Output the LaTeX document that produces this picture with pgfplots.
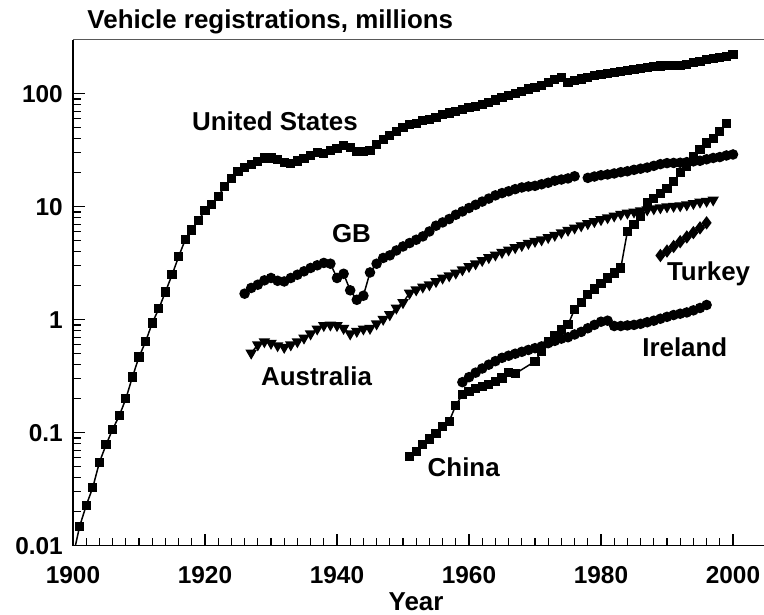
\documentclass[border=0pt]{standalone}
\usepackage{fontspec}
\setmainfont{Liberation Sans}
\usepackage{pgfplots}
\pgfplotsset{compat=1.18}
\begin{document}
\begin{tikzpicture}
\newcommand{\lblfont}{\fontsize{26}{30}\selectfont\bfseries}
\begin{axis}[
  at={(0,0)}, anchor=south west,
  scale only axis,
  width=693bp, height=505.9bp,
  xmin=1900, xmax=2005,
  ymode=log, ymin=0.01, ymax=300,
  axis lines=left,
  axis line style={-, line width=1.5bp, black},
  tick align=inside,
  major tick length=12bp, minor tick length=8bp,
  tick style={line width=1.3bp, black},
  xtick={1900,1920,1940,1960,1980,2000},
  xticklabels={1900,1920,1940,1960,1980,2000},
  minor x tick num=9,
  ytick={0.01,0.1,1,10,100},
  yticklabels={0.01,0.1,1,10,100},
  xticklabel style={font=\fontsize{24.5}{28}\selectfont\bfseries, inner sep=0pt, anchor=north, yshift=-21bp},
  yticklabel style={font=\fontsize{24.5}{28}\selectfont\bfseries, inner sep=0pt, anchor=east, xshift=-10bp},
  xlabel={Year},
  every axis x label/.style={at={(axis description cs:0.495,0)}, anchor=base, yshift=-64.3bp, inner sep=0pt, font=\lblfont},
  every axis plot/.append style={black, line width=1.5bp, solid},
]
% United States
\addplot[no markers] coordinates {(1900,0.008) (1901,0.0148)};
\addplot[mark=square*, mark size=3.8bp] coordinates {
(1901,0.0148) (1902,0.0227) (1903,0.0328) (1904,0.0546) (1905,0.078) (1906,0.107) (1907,0.141) (1908,0.199) (1909,0.311) (1910,0.468)
(1911,0.639) (1912,0.935) (1913,1.25) (1914,1.76) (1915,2.49) (1916,3.61) (1917,5.1) (1918,6.22) (1919,7.57) (1920,9.22)
(1921,10.5) (1922,12.4) (1923,15.1) (1924,17.8) (1925,20.4) (1926,22.3) (1927,23.7) (1928,25.2) (1929,27.0) (1930,27.0)
(1931,26.2) (1932,24.5) (1933,24.3) (1934,25.4) (1935,26.7) (1936,28.6) (1937,30.2) (1938,29.8) (1939,31.2) (1940,32.8)
(1941,35.0) (1942,33.2) (1943,31.0) (1944,30.6) (1945,31.5) (1946,35.5) (1947,39) (1948,43) (1949,46.5) (1950,50.5)
(1951,53) (1952,55) (1953,57.5) (1954,59.5) (1955,62) (1956,65) (1957,67.5) (1958,69.5) (1959,72.5) (1960,75)
(1961,77.5) (1962,80.5) (1963,84) (1964,88) (1965,92) (1966,96.5) (1967,100.5) (1968,105) (1969,110) (1970,114)
(1971,119) (1972,126) (1973,133) (1974,139) (1975,125) (1976,130) (1977,135) (1978,140) (1979,144) (1980,147)
(1981,150) (1982,153) (1983,156) (1984,160) (1985,164) (1986,167) (1987,170) (1988,173) (1989,176) (1990,178)
(1991,178) (1992,179) (1993,183) (1994,188) (1995,193) (1996,199) (1997,204) (1998,209) (1999,215) (2000,221)
};
% GB
\addplot[mark=*, mark size=4.5bp] coordinates {
(1926,1.70) (1927,1.91) (1928,2.04) (1929,2.23) (1930,2.34) (1931,2.21) (1932,2.18) (1933,2.34) (1934,2.50) (1935,2.68)
(1936,2.87) (1937,3.03) (1938,3.18) (1939,3.13) (1940,2.34) (1941,2.55) (1942,1.82) (1943,1.50) (1944,1.63) (1945,2.62)
(1946,3.13) (1947,3.52) (1948,3.71) (1949,4.10) (1950,4.45) (1951,4.77) (1952,5.10) (1953,5.46) (1954,6.04) (1955,6.79)
(1956,7.26) (1957,7.78) (1958,8.49) (1959,9.08) (1960,9.74) (1961,10.4) (1962,11.1) (1963,11.8) (1964,12.6) (1965,13.2)
(1966,13.7) (1967,14.3) (1968,14.8) (1969,15.1) (1970,15.3) (1971,15.8) (1972,16.3) (1973,17.0) (1974,17.4) (1975,17.8)
(1976,18.6)
};
\addplot[mark=*, mark size=4.5bp] coordinates {
(1978,18.0) (1979,18.5) (1980,19.0) (1981,19.3) (1982,19.7) (1983,20.2) (1984,20.6) (1985,21.2) (1986,21.7) (1987,22.2)
(1988,23.0) (1989,23.8) (1990,24.3) (1991,24.4) (1992,24.5) (1993,24.8) (1994,25.2) (1995,25.5) (1996,26.3) (1997,27.0)
(1998,27.5) (1999,28.4) (2000,29.0)
};
% Australia
\addplot[mark=triangle*, mark size=5.2bp, mark options={rotate=180}] coordinates {
(1927,0.507) (1928,0.60) (1929,0.64) (1930,0.62) (1931,0.59) (1932,0.57) (1933,0.60) (1934,0.64) (1935,0.69) (1936,0.75)
(1937,0.83) (1938,0.89) (1939,0.90) (1940,0.89) (1941,0.84) (1942,0.75) (1943,0.79) (1944,0.83) (1945,0.84) (1946,0.92)
(1947,1.01) (1948,1.11) (1949,1.27) (1950,1.42) (1951,1.72) (1952,1.84) (1953,1.95) (1954,2.04) (1955,2.18) (1956,2.34)
(1957,2.45) (1958,2.59) (1959,2.77) (1960,2.96) (1961,3.13) (1962,3.35) (1963,3.55) (1964,3.75) (1965,3.95) (1966,4.15)
(1967,4.35) (1968,4.55) (1969,4.75) (1970,4.95) (1971,5.1) (1972,5.35) (1973,5.6) (1974,5.9) (1975,6.2) (1976,6.5)
(1977,6.8) (1978,7.1) (1979,7.4) (1980,7.7) (1981,8.0) (1982,8.3) (1983,8.6) (1984,8.8) (1985,9.0) (1986,9.2)
(1987,9.4) (1988,9.6) (1989,9.8) (1990,10.0) (1991,10.1) (1992,10.2) (1993,10.4) (1994,10.7) (1995,11.0) (1996,11.2)
(1997,11.5)
};
% China
\addplot[mark=square*, mark size=3.8bp] coordinates {
(1951,0.062) (1952,0.068) (1953,0.078) (1954,0.088) (1955,0.099) (1956,0.114) (1957,0.126) (1958,0.175) (1959,0.217) (1960,0.232)
(1961,0.244) (1962,0.257) (1963,0.266) (1964,0.284) (1965,0.305) (1966,0.342) (1967,0.333) (1970,0.428) (1971,0.525) (1972,0.643)
(1973,0.72) (1974,0.82) (1975,0.90) (1976,1.24) (1977,1.41) (1978,1.66) (1979,1.87) (1980,2.11) (1981,2.34) (1982,2.59)
(1983,2.87) (1984,6.04) (1985,6.93) (1986,8.2) (1987,10.8) (1988,11.9) (1989,13.2) (1990,14.6) (1991,16.7) (1992,19.9)
(1993,22.7) (1994,27.9) (1995,31.9) (1996,36.6) (1997,40.5) (1998,46.4) (1999,55)
};
% Ireland
\addplot[mark=*, mark size=4.5bp] coordinates {
(1959,0.28) (1960,0.31) (1961,0.34) (1962,0.37) (1963,0.40) (1964,0.43) (1965,0.46) (1966,0.48) (1967,0.50) (1968,0.52)
(1969,0.54) (1970,0.56) (1971,0.58) (1972,0.62) (1973,0.65) (1974,0.68) (1975,0.70) (1976,0.74) (1977,0.78) (1978,0.84)
(1979,0.90) (1980,0.96) (1981,0.98) (1982,0.88) (1983,0.88) (1984,0.89) (1985,0.90) (1986,0.92) (1987,0.95) (1988,0.98)
(1989,1.02) (1990,1.06) (1991,1.10) (1992,1.13) (1993,1.16) (1994,1.21) (1995,1.27) (1996,1.35)
};
% Turkey
\addplot[mark=diamond*, mark size=5.5bp] coordinates {
(1989,3.7) (1990,4.05) (1991,4.45) (1992,4.9) (1993,5.4) (1994,5.9) (1995,6.5) (1996,7.2)
};
\node[anchor=base, inner sep=0pt, font=\lblfont] at (axis cs:1930.6,47.3) {United States};
\node[anchor=base, inner sep=0pt, font=\lblfont] at (axis cs:1942.2,4.87) {GB};
\node[anchor=base, inner sep=0pt, font=\lblfont] at (axis cs:1936.9,0.262) {Australia};
\node[anchor=base, inner sep=0pt, font=\lblfont] at (axis cs:1959.2,0.0410) {China};
\node[anchor=base, inner sep=0pt, font=\lblfont] at (axis cs:1996.3,2.23) {Turkey};
\node[anchor=base, inner sep=0pt, font=\lblfont] at (axis cs:1992.7,0.473) {Ireland};
\draw[black!65, line width=1bp] (rel axis cs:0,1) -- (rel axis cs:1,1);
\end{axis}
\node[anchor=base west, inner sep=0pt, font=\lblfont] at (14.3bp,517.4bp) {Vehicle registrations, millions};
\pgfresetboundingbox
\useasboundingbox (-73bp,-69.3bp) rectangle (691bp,545.7bp);
\end{tikzpicture}
\end{document}
